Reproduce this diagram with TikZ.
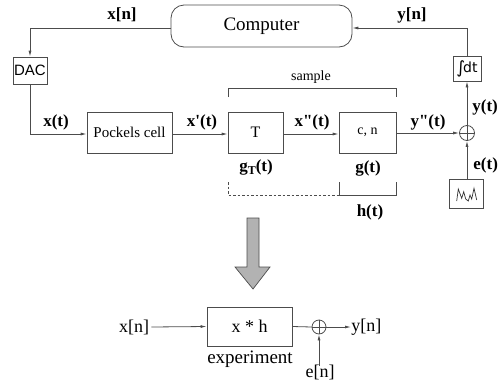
\documentclass[tikz,border=0pt]{standalone}
\usepackage{fontspec}
\setmainfont{Liberation Serif}
\setsansfont{Liberation Sans}
\newfontfamily\timesf{Liberation Serif}
\newfontfamily\dejavu{DejaVu Sans}
\usetikzlibrary{arrows.meta,patterns}
\begin{document}
\begin{tikzpicture}[x=1pt,y=-1pt,
  line width=0.8pt, draw=black!70,
  >={Latex[length=6pt,width=3pt]},
  blk/.style={draw=black!70, inner sep=0pt, font=\timesf\fontsize{15}{17}\selectfont},
  lbl/.style={inner sep=0pt, font=\timesf\bfseries\fontsize{17}{19}\selectfont},
  lblb/.style={inner sep=0pt, font=\timesf\fontsize{18}{20}\selectfont},
  sumc/.style={draw=black!70, circle, inner sep=0pt, minimum size=15pt},
  con/.style={draw=black!70, line width=0.8pt},
  arr/.style={con, ->}]
\useasboundingbox (0,0) rectangle (498,381);
% top
\node[blk, rounded corners=13pt, minimum width=181pt, minimum height=42pt, font=\timesf\fontsize{19}{21}\selectfont] (comp) at (261.5,26) {Computer};
\node[blk, minimum width=34pt, minimum height=27pt, font=\sffamily\fontsize{15}{17}\selectfont] (dac) at (30,70.5) {DAC};
\node[blk, minimum width=85pt, minimum height=41pt] (pock) at (129.5,132.5) {Pockels cell};
\node[blk, minimum width=55pt, minimum height=41pt, font=\timesf\fontsize{16}{18}\selectfont] (tb) at (255.5,132.5) {T};
\node[blk, minimum width=57pt, minimum height=41pt, font=\timesf\fontsize{14}{16}\selectfont] (cn) at (367.5,132.5) {c, n};
\node[sumc] (sum) at (467,133) {};
\node[blk, minimum width=28pt, minimum height=25pt, font=\dejavu\fontsize{14}{16}\selectfont] (integ) at (467,68.5) {\raisebox{-1pt}{\fontsize{17}{17}\selectfont∫}\kern-2pt dt};
\node[blk, minimum width=34pt, minimum height=29pt] (noise) at (466.5,193.5) {};
\draw[black!80, line width=0.7pt] (456.7,201)--(458.3,189)--(461.7,198.3)--(463.7,191.7)--(465.7,199)--(468.3,201)--(470,195)--(471.7,199)--(474,188.3)--(476.7,200);
% connectors
\coordinate (c1) at (30,28);
\coordinate (c2) at (30,134);
\coordinate (c3) at (467,28);
\draw[arr] (comp.west |- c1) -- (c1) -- (dac.north);
\draw[arr] (dac.south) -- (c2) -- (pock.west |- c2);
\draw[arr] (pock.east |- c2) -- (tb.west |- c2);
\draw[arr] (tb.east |- c2) -- (cn.west |- c2);
\draw[arr] (cn.east |- sum) -- (sum.west);
\draw[arr] (noise.north -| sum) -- (sum.south);
\draw[arr] (sum.north) -- (integ.south);
\draw[arr] (integ.north) -- (c3) -- (comp.east |- c3);
\draw (sum.north) -- (sum.south) (sum.west) -- (sum.east);
% labels
\node[lbl] (lxn) at (122,15) {x[n]};
\node[lbl] (lyn) at (412,15) {y[n]};
\node[lbl] (lxt) at (56,122) {x(t)};
\node[lbl] (lxpt) at (202,122) {x'(t)};
\node[lbl] (lxppt) at (312,122) {x"(t)};
\node[lbl] (lyppt) at (428,122) {y"(t)};
\node[lbl, anchor=west] (lyt) at (472,107) {y(t)};
\node[lbl, anchor=west] (let) at (473,165) {e(t)};
\node[lbl] (lgt) at (256,167) {g\raisebox{-3pt}{\fontsize{12}{12}\selectfont T}(t)};
\node[lbl] (lg) at (368,168) {g(t)};
\node[lbl] (lh) at (370,212) {h(t)};
\node[inner sep=0pt, font=\timesf\fontsize{14}{16}\selectfont] (lsamp) at (311,77) {sample};
% brackets
\draw[con] (228,97) -- (228,88) -- (396,88) -- (396,97);
\draw[con, dashed, dash pattern=on 2.5pt off 2pt] (228,182) -- (228,195) -- (339,195);
\draw[con] (339,182) -- (339,195) -- (396,195) -- (396,182);
% big arrow
\draw[black!70, line width=0.7pt, fill=black!30] (247,218) -- (259,218) -- (259,267) -- (270,267) -- (253,289) -- (235,267) -- (247,267) -- cycle;
% bottom
\node[blk, minimum width=85pt, minimum height=39pt, font=\timesf\fontsize{18}{20}\selectfont] (exp) at (249.5,326.5) {x * h};
\node[lblb, font=\timesf\fontsize{19}{21}\selectfont] (lexp) at (250,359) {experiment};
\node[sumc, minimum size=14pt] (sum2) at (319,327) {};
\draw (sum2.north) -- (sum2.south) (sum2.west) -- (sum2.east);
\node[lblb] (bxn) at (134,327) {x[n]};
\node[lblb, anchor=west] (byn) at (351,327) {y[n]};
\node[lblb] (ben) at (320,372) {e[n]};
\draw[arr] (bxn.east) ++(2pt,0) -- (exp.west);
\draw[con] (exp.east) -- (sum2.west);
\draw[arr] (sum2.east) -- (byn.west);
\draw[arr] (ben.north -| sum2) ++(0,-2pt) -- (sum2.south);
\end{tikzpicture}
\end{document}
